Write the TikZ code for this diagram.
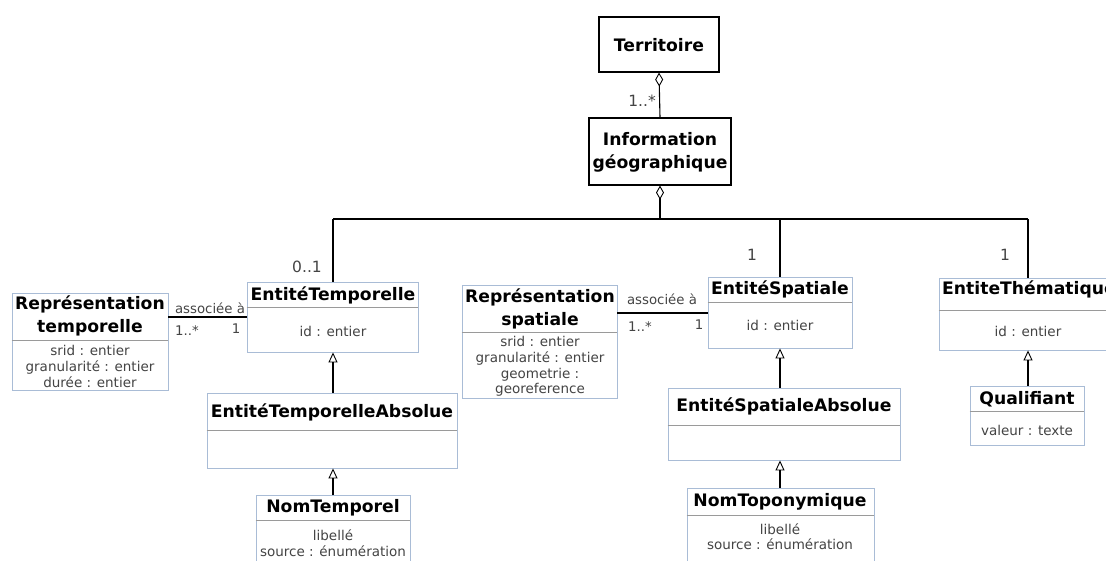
\documentclass[tikz,border=0pt]{standalone}
\usepackage{fontspec}
\setmainfont{DejaVu Sans}
\usetikzlibrary{arrows.meta}
\definecolor{bord}{HTML}{A9BCD6}
\definecolor{divc}{HTML}{9A9A9A}
\definecolor{attr}{HTML}{444444}
\tikzset{
  x=1pt, y=-1pt,
  cls/.style={draw=bord, line width=0.9pt, fill=white, inner sep=0pt},
  topcls/.style={draw=black, line width=1.2pt, fill=white, inner sep=0pt},
  ttl/.style={font=\bfseries\fontsize{17.2}{23}\selectfont, inner sep=0pt, align=center},
  att/.style={font=\fontsize{13.5}{15.6}\selectfont, text=attr, inner sep=0pt, align=center},
  mult/.style={font=\fontsize{15.5}{17}\selectfont, text=attr, inner sep=0pt},
  amult/.style={font=\fontsize{13.3}{15}\selectfont, text=attr, inner sep=0pt},
  divl/.style={draw=divc, line width=0.9pt},
  link/.style={draw=black, line width=1.1pt},
  gen/.style={link, -{Triangle[open, width=9pt, length=10pt, line width=0.9pt]}},
  agg/.style={link, {Diamond[open, width=8pt, length=14pt, line width=0.9pt]}-},
}
\begin{document}
\begin{tikzpicture}
\useasboundingbox (0,0) rectangle (1106,560);
\clip (0,0) rectangle (1106,560);

% top boxes
\node[topcls, minimum width=120pt, minimum height=55pt] (terr) at (659,44.5) {};
\node[ttl] (terrT) at (659,45) {Territoire};
\node[topcls, minimum width=142pt, minimum height=67pt] (info) at (660,151.5) {};
\node[ttl] (infoT) at (660,152) {Information\\géographique};

\draw[agg] (terr.south) -- (info.north);
\node[mult, anchor=east] (m1) at (656,101) {1..*};

% bus
\coordinate (bus) at (660,219);
\coordinate (busL) at (333,219);
\coordinate (busR) at (1028,219);
\draw[agg] (info.south) -- (bus);
\draw[link] (busL) -- (busR);

% Représentation temporelle
\node[cls, minimum width=156pt, minimum height=97pt] (rt) at (90,341.5) {};
\draw[divl] (rt.west |- 0,340) -- (rt.east |- 0,340);
\node[ttl] (rtT) at (90,316) {Représentation\\temporelle};
\node[att] (rtA) at (90,366.5) {srid : entier\\granularité : entier\\durée : entier};

% EntitéTemporelle
\node[cls, minimum width=171pt, minimum height=70pt] (et) at (332.5,317) {};
\draw[divl] (et.west |- 0,307) -- (et.east |- 0,307);
\node[ttl] (etT) at (333,295) {EntitéTemporelle};
\node[att] (etA) at (333,331) {id : entier};

% EntitéTemporelleAbsolue
\node[cls, minimum width=250pt, minimum height=75pt] (eta) at (332,430.5) {};
\draw[divl] (eta.west |- 0,430) -- (eta.east |- 0,430);
\node[ttl] (etaT) at (332,412) {EntitéTemporelleAbsolue};

% NomTemporel
\node[cls, minimum width=154pt, minimum height=70pt] (nt) at (333,530) {};
\draw[divl] (nt.west |- 0,520) -- (nt.east |- 0,520);
\node[ttl] (ntT) at (333,508) {NomTemporel};
\node[att] (ntA) at (333,543) {libellé\\source : énumération};

% Représentation spatiale
\node[cls, minimum width=155pt, minimum height=113pt] (rs) at (539.5,341.5) {};
\draw[divl] (rs.west |- 0,332) -- (rs.east |- 0,332);
\node[ttl] (rsT) at (540,309) {Représentation\\spatiale};
\node[att] (rsA) at (540,366.5) {srid : entier\\granularité : entier\\geometrie :\\georeference};

% EntitéSpatiale
\node[cls, minimum width=144pt, minimum height=71pt] (es) at (780,312.5) {};
\draw[divl] (es.west |- 0,302) -- (es.east |- 0,302);
\node[ttl] (esT) at (780,289) {EntitéSpatiale};
\node[att] (esA) at (780,325) {id : entier};

% EntitéSpatialeAbsolue
\node[cls, minimum width=232pt, minimum height=72pt] (esa) at (784,424) {};
\draw[divl] (esa.west |- 0,425) -- (esa.east |- 0,425);
\node[ttl] (esaT) at (784,406) {EntitéSpatialeAbsolue};

% NomToponymique
\node[cls, minimum width=187pt, minimum height=76pt] (ntp) at (780.5,526) {};
\draw[divl] (ntp.west |- 0,515) -- (ntp.east |- 0,515);
\node[ttl] (ntpT) at (780,502) {NomToponymique};
\node[att] (ntpA) at (780,536.5) {libellé\\source : énumération};

% EntiteThématique
\node[cls, minimum width=180pt, minimum height=72pt] (eth) at (1029,314) {};
\draw[divl] (eth.west |- 0,310) -- (eth.east |- 0,310);
\node[ttl, anchor=west] (ethT) at (942,289) {EntiteThématique};
\node[att] (ethA) at (1028,331) {id : entier};

% Qualifiant
\node[cls, minimum width=114pt, minimum height=59pt] (q) at (1027,415.5) {};
\draw[divl] (q.west |- 0,411) -- (q.east |- 0,411);
\node[ttl] (qT) at (1027,399) {Qualifiant};
\node[att] (qA) at (1027,430) {valeur : texte};

% bus drops
\draw[link] (busL) -- (et.north -| busL);
\draw[link] (780,219) -- (es.north -| 780,0);
\draw[link] (busR) -- (eth.north -| busR);
\node[mult] (m2) at (307,267) {0..1};
\node[mult] (m3) at (752,255) {1};
\node[mult] (m4) at (1005,255) {1};

% associations
\draw[link] (rt.east |- 0,317) -- (et.west |- 0,317);
\node[amult] (a1) at (210,308) {associée à};
\node[amult] (a1m) at (187,331) {1..*};
\node[amult] (a1n) at (236,329) {1};

\draw[link] (rs.east |- 0,313) -- (es.west |- 0,313);
\node[amult] (a2) at (662,299) {associée à};
\node[amult] (a2m) at (640,327) {1..*};
\node[amult] (a2n) at (699,325) {1};

% generalisations
\draw[gen] (eta.north -| 333,0) -- (et.south -| 333,0);
\draw[gen] (nt.north) -- (eta.south -| nt.north);
\draw[gen] (esa.north -| 780,0) -- (es.south);
\draw[gen] (ntp.north -| 780,0) -- (esa.south -| 780,0);
\draw[gen] (q.north -| 1028,0) -- (eth.south -| 1028,0);
\end{tikzpicture}
\end{document}
